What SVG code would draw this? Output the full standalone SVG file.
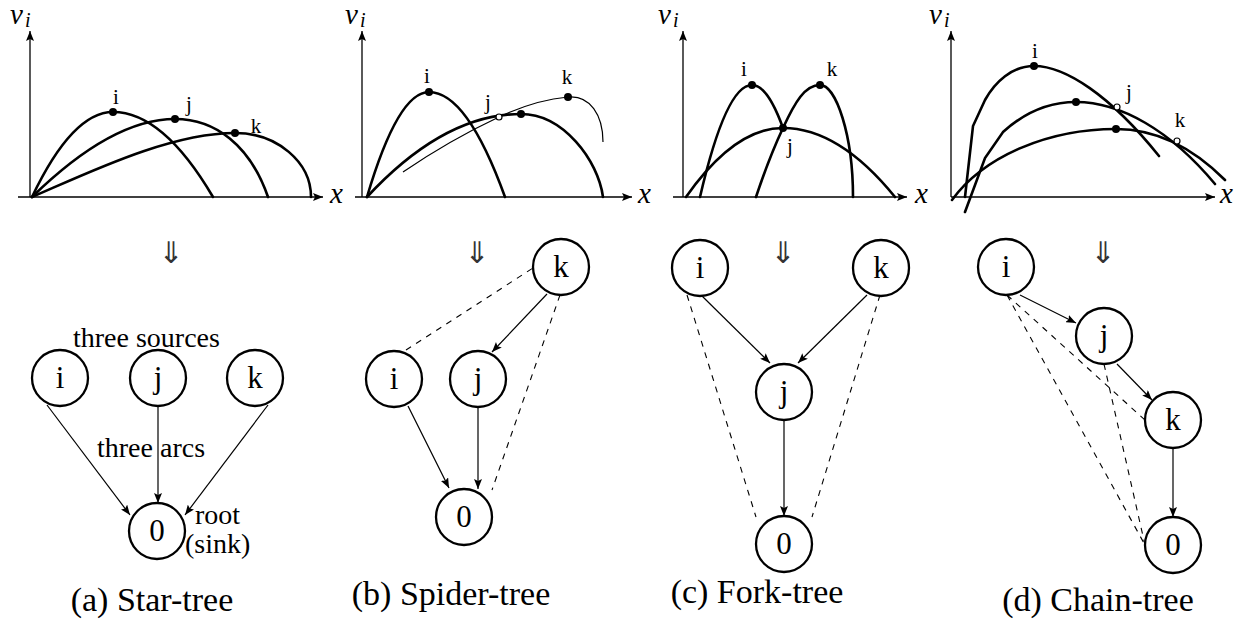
<svg xmlns="http://www.w3.org/2000/svg" width="1253" height="619" viewBox="0 0 1253 619" font-family="Liberation Serif">
<style>
.node circle{fill:#fff;stroke:#000;stroke-width:2.3}
.node text{font-size:31px;text-anchor:middle;font-family:'Liberation Serif'}
.ax{fill:none;stroke:#000;stroke-width:1.3;marker-end:url(#axh)}
.cv{fill:none;stroke:#000;stroke-width:2.6;stroke-linecap:round}
.thin{fill:none;stroke:#000;stroke-width:1.2}
.dot{fill:#000}
.odot{fill:#fff;stroke:#000;stroke-width:1.2}
.pl{font-size:21px;text-anchor:middle;font-family:'Liberation Serif'}
.mi{font-style:italic;font-size:29px;font-family:'Liberation Serif'}
.lbl{font-size:28px;font-family:'Liberation Serif'}
.cap{font-size:34px;text-anchor:middle;font-family:'Liberation Serif'}
.dn{font-family:'DejaVu Sans';font-size:30px;text-anchor:middle;fill:#333}
.arr{fill:none;stroke:#000;stroke-width:1.2;marker-end:url(#ah)}
.dash{fill:none;stroke:#000;stroke-width:1.1;stroke-dasharray:6 6}
</style>
<defs>
<marker id="ah" markerWidth="11" markerHeight="8" refX="10" refY="4" orient="auto" markerUnits="userSpaceOnUse"><path d="M0,0 L10,4 L0,8 L2,4 z" fill="#000"/></marker>
<marker id="axh" markerWidth="11" markerHeight="8" refX="10" refY="4" orient="auto" markerUnits="userSpaceOnUse"><path d="M0,0 L10,4 L0,8 L2,4 z" fill="#000"/></marker>
</defs>

<!-- Panel (a) plot -->
<g id="plot-a">
<path class="ax" d="M30,197 L30,31"/>
<path class="ax" d="M18,197 L323,197"/>
<text class="mi" x="10" y="24">v<tspan font-size="20" dx="2" dy="3">i</tspan></text>
<text class="mi" x="330" y="203">x</text>
<path class="cv" d="M32,197 Q72.5,112 113,112 Q163,112 213,197"/>
<path class="cv" d="M32,197 C75,155 125,119 175,119 C215,119 250,145 268,197"/>
<path class="cv" d="M32,197 C90,172 170,133 235,133 C277,133 311,162 311,197"/>
<circle class="dot" cx="113" cy="112" r="4"/>
<circle class="dot" cx="175" cy="119" r="4"/>
<circle class="dot" cx="235" cy="133" r="4"/>
<text class="pl" x="116" y="104">i</text>
<text class="pl" x="189" y="111">j</text>
<text class="pl" x="256" y="133">k</text>
</g>

<!-- Panel (b) plot -->
<g id="plot-b">
<path class="ax" d="M362,197 L362,31"/>
<path class="ax" d="M355,197 L632,197"/>
<text class="mi" x="345" y="24">v<tspan font-size="20" dx="2" dy="3">i</tspan></text>
<text class="mi" x="638" y="203">x</text>
<path class="cv" d="M367,197 Q398,92 429,92 Q467,92 505,197"/>
<path class="cv" d="M367,197 Q444,114 521,114 C563,114 598,160 603,197"/>
<path class="thin" d="M403,172 Q450,140 499,117 Q535,100 568,97 C590,95 603,115 603,142"/>
<circle class="dot" cx="429" cy="92" r="4"/>
<circle class="dot" cx="521" cy="114" r="4"/>
<circle class="dot" cx="568" cy="97" r="4"/>
<circle class="odot" cx="499" cy="117" r="3"/>
<text class="pl" x="427" y="83">i</text>
<text class="pl" x="488" y="109">j</text>
<text class="pl" x="567" y="84">k</text>
</g>

<!-- Panel (c) plot -->
<g id="plot-c">
<path class="ax" d="M683,197 L683,31"/>
<path class="ax" d="M673,197 L907,197"/>
<text class="mi" x="658" y="24">v<tspan font-size="20" dx="2" dy="3">i</tspan></text>
<text class="mi" x="915" y="203">x</text>
<path class="cv" d="M700,197 Q726,85 752,85 Q767.5,85 783,128"/>
<path class="cv" d="M756,197 C765,170 775,145 783,128 C795,102 805,85 820,85 C836,85 853,135 853,197"/>
<path class="cv" d="M686,197 Q734.5,128 783,128 Q839,128 895,197"/>
<circle class="dot" cx="752" cy="85" r="4"/>
<circle class="dot" cx="820" cy="85" r="4"/>
<circle class="dot" cx="783" cy="128" r="4"/>
<text class="pl" x="744" y="76">i</text>
<text class="pl" x="832" y="76">k</text>
<text class="pl" x="790" y="153">j</text>
</g>

<!-- Panel (d) plot -->
<g id="plot-d">
<path class="ax" d="M951,197 L951,31"/>
<path class="ax" d="M951,197 L1215,197"/>
<text class="mi" x="929" y="24">v<tspan font-size="20" dx="2" dy="3">i</tspan></text>
<text class="mi" x="1220" y="203">x</text>
<path class="cv" d="M965,197 L973,126 L985,100 C995,82 1012,66 1034,66 C1065,66 1110,95 1159,156"/>
<path class="cv" d="M965,212 L985,158 L1003,132 C1025,112 1050,102 1076,102 C1120,102 1170,130 1215,184"/>
<path class="cv" d="M952,200 C985,155 1050,129 1116,129 C1160,129 1195,150 1225,180"/>
<circle class="dot" cx="1034" cy="66" r="4"/>
<circle class="dot" cx="1076" cy="102" r="4"/>
<circle class="dot" cx="1116" cy="129" r="4"/>
<circle class="odot" cx="1117" cy="107" r="3"/>
<circle class="odot" cx="1177" cy="141" r="3"/>
<text class="pl" x="1035" y="58">i</text>
<text class="pl" x="1129" y="99">j</text>
<text class="pl" x="1180" y="127">k</text>
</g>

<!-- implication arrows -->
<g id="implies">
<text class="dn" x="171" y="263">⇓</text>
<text class="dn" x="477" y="263">⇓</text>
<text class="dn" x="783" y="263">⇓</text>
<text class="dn" x="1103" y="263">⇓</text>
</g>

<!-- connectors -->
<g id="connectors">
<path class="arr" d="M47,405 L130,515"/>
<path class="arr" d="M158,406 L158,503"/>
<path class="arr" d="M268,405 L185,515"/>

<path class="arr" d="M547,294 L492,352"/>
<path class="arr" d="M408,406 L449,488"/>
<path class="arr" d="M478,407 L478,489"/>
<path class="dash" d="M406,350 L533,268"/>
<path class="dash" d="M560,295 L492,490"/>

<path class="arr" d="M701,295 L770,363"/>
<path class="arr" d="M867,295 L798,363"/>
<path class="arr" d="M784,420 L784,516"/>
<path class="dash" d="M687,295 L756,517"/>
<path class="dash" d="M880,295 L812,517"/>

<path class="arr" d="M1020,295 L1076,323"/>
<path class="arr" d="M1117,364 L1152,400"/>
<path class="arr" d="M1173,448 L1173,517"/>
<path class="dash" d="M1007,295 L1145,420"/>
<path class="dash" d="M1007,295 L1145,545"/>
<path class="dash" d="M1104,364 L1145,545"/>
</g>

<!-- nodes (a) -->
<g id="a-i" class="node"><circle cx="60" cy="378" r="28"/><text x="60" y="388">i</text></g>
<g id="a-j" class="node"><circle cx="158" cy="378" r="28"/><text x="158" y="388">j</text></g>
<g id="a-k" class="node"><circle cx="255" cy="378" r="28"/><text x="255" y="388">k</text></g>
<g id="a-0" class="node"><circle cx="157" cy="531" r="28"/><text x="157" y="541">0</text></g>
<!-- nodes (b) -->
<g id="b-k" class="node"><circle cx="561" cy="267" r="28"/><text x="561" y="277">k</text></g>
<g id="b-i" class="node"><circle cx="394" cy="379" r="28"/><text x="394" y="389">i</text></g>
<g id="b-j" class="node"><circle cx="478" cy="379" r="28"/><text x="478" y="389">j</text></g>
<g id="b-0" class="node"><circle cx="464" cy="517" r="28"/><text x="464" y="527">0</text></g>
<!-- nodes (c) -->
<g id="c-i" class="node"><circle cx="700" cy="268" r="28"/><text x="700" y="278">i</text></g>
<g id="c-k" class="node"><circle cx="881" cy="268" r="28"/><text x="881" y="278">k</text></g>
<g id="c-j" class="node"><circle cx="784" cy="392" r="28"/><text x="784" y="402">j</text></g>
<g id="c-0" class="node"><circle cx="784" cy="544" r="28"/><text x="784" y="554">0</text></g>
<!-- nodes (d) -->
<g id="d-i" class="node"><circle cx="1006" cy="267" r="28"/><text x="1006" y="277">i</text></g>
<g id="d-j" class="node"><circle cx="1104" cy="336" r="28"/><text x="1104" y="346">j</text></g>
<g id="d-k" class="node"><circle cx="1173" cy="420" r="28"/><text x="1173" y="430">k</text></g>
<g id="d-0" class="node"><circle cx="1173" cy="545" r="28"/><text x="1173" y="555">0</text></g>

<!-- annotations -->
<g id="labels">
<text class="lbl" x="73" y="347">three sources</text>
<text class="lbl" x="97" y="457">three arcs</text>
<text class="lbl" x="195" y="524">root</text>
<text class="lbl" x="185" y="553">(sink)</text>
<text class="cap" x="152" y="611">(a) Star-tree</text>
<text class="cap" x="451" y="605">(b) Spider-tree</text>
<text class="cap" x="757" y="603">(c) Fork-tree</text>
<text class="cap" x="1098" y="611">(d) Chain-tree</text>
</g>
</svg>
